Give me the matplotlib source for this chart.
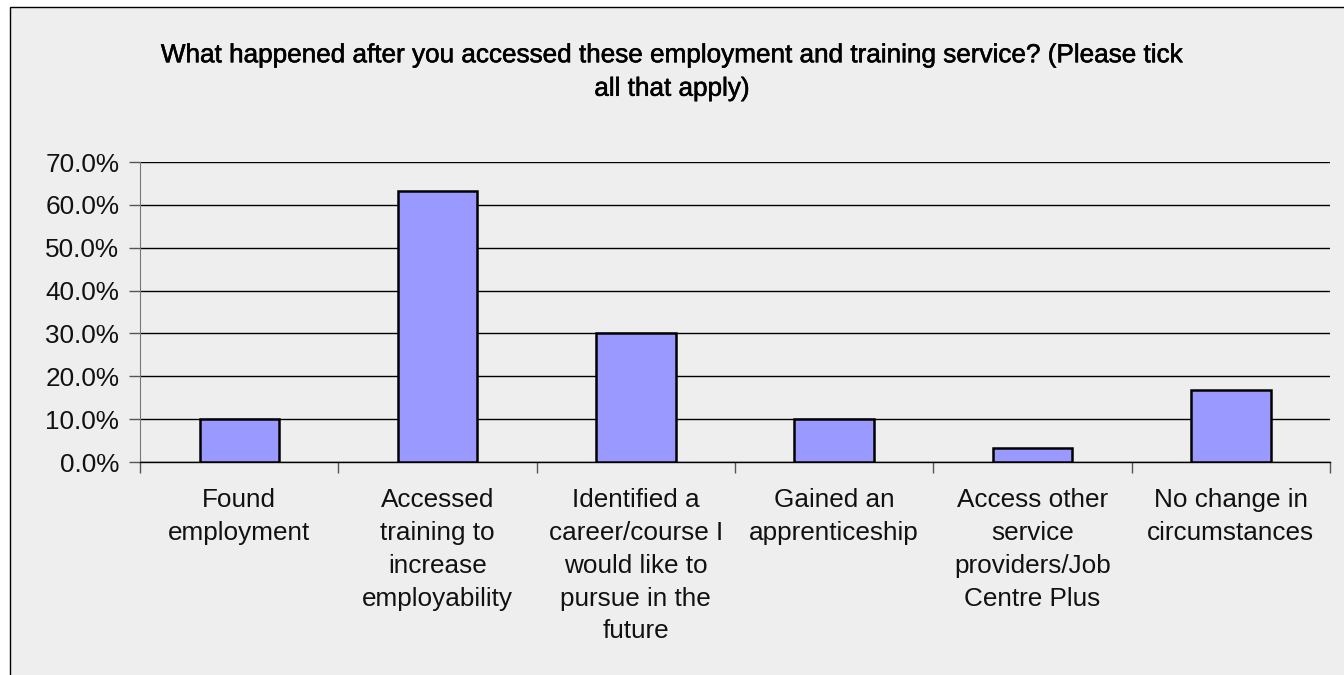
import matplotlib
matplotlib.use("Agg")
import matplotlib.pyplot as plt
import matplotlib.patheffects as pe
from matplotlib.patches import Rectangle
from matplotlib.ticker import FuncFormatter
import numpy as np

plt.rcParams['font.family'] = ['Liberation Sans', 'DejaVu Sans']

title = ("What happened after you accessed these employment and training service? (Please tick\n"
         "all that apply)")
categories = [
    "Found\nemployment",
    "Accessed\ntraining to\nincrease\nemployability",
    "Identified a\ncareer/course I\nwould like to\npursue in the\nfuture",
    "Gained an\napprenticeship",
    "Access other\nservice\nproviders/Job\nCentre Plus",
    "No change in\ncircumstances",
]
values = [10.0, 63.3, 30.0, 10.0, 3.3, 16.7]
y_ticks = [0, 10, 20, 30, 40, 50, 60, 70]

W, H = 1344, 675
fig = plt.figure(figsize=(W / 100, H / 100), dpi=100)
fig.patch.set_facecolor("white")

# chart area background with thin frame
frame = Rectangle((10 / W, -0.01), 1.0, 1 - 7 / H + 0.01, transform=fig.transFigure,
                  facecolor="#EEEEEE", edgecolor="black", linewidth=1.0, zorder=-10)
fig.patches.append(frame)

ax = fig.add_axes([140 / W, 1 - 462 / H, (1330 - 140) / W, 300 / H])
ax.set_zorder(1)
ax.set_facecolor("#EEEEEE")

x = np.arange(len(categories))
ax.bar(x, values, width=0.4, color="#9999FF", edgecolor="black", linewidth=1.8, zorder=3)

ax.set_xlim(-0.5, len(categories) - 0.5)
ax.set_ylim(0, 70)
ax.set_yticks(y_ticks)
ax.yaxis.set_major_formatter(FuncFormatter(lambda v, p: f"{v:.1f}%"))
ax.grid(axis="y", color="black", linewidth=1.0, zorder=1)
ax.set_axisbelow(True)

# category boundaries as tick marks; labels centred under bars
ax.set_xticks(np.arange(-0.5, len(categories), 1.0))
ax.set_xticklabels([])
ax.tick_params(axis="x", length=8, color="#555555", width=1)
ax.tick_params(axis="y", length=8, color="#555555", width=1, labelsize=18.8, pad=7)
for lbl in ax.get_yticklabels():
    lbl.set_color("#111111")

for xi, lab in zip(x, categories):
    ax.text(xi, -0.088, lab, transform=ax.get_xaxis_transform(), ha="center", va="top",
            fontsize=18.8, linespacing=1.46, color="#111111")

for side in ["top", "right"]:
    ax.spines[side].set_visible(False)
ax.spines["left"].set_color("#777777")
ax.spines["bottom"].set_color("black")
ax.spines["bottom"].set_linewidth(1.0)

fig.text(672 / W, 1 - 72 / H, title, ha="center", va="center", fontsize=18.8,
         fontweight="normal", linespacing=1.5, color="black",
         path_effects=[pe.withStroke(linewidth=0.4, foreground="black")])

fig.savefig("out.png", dpi=100, facecolor="white")
